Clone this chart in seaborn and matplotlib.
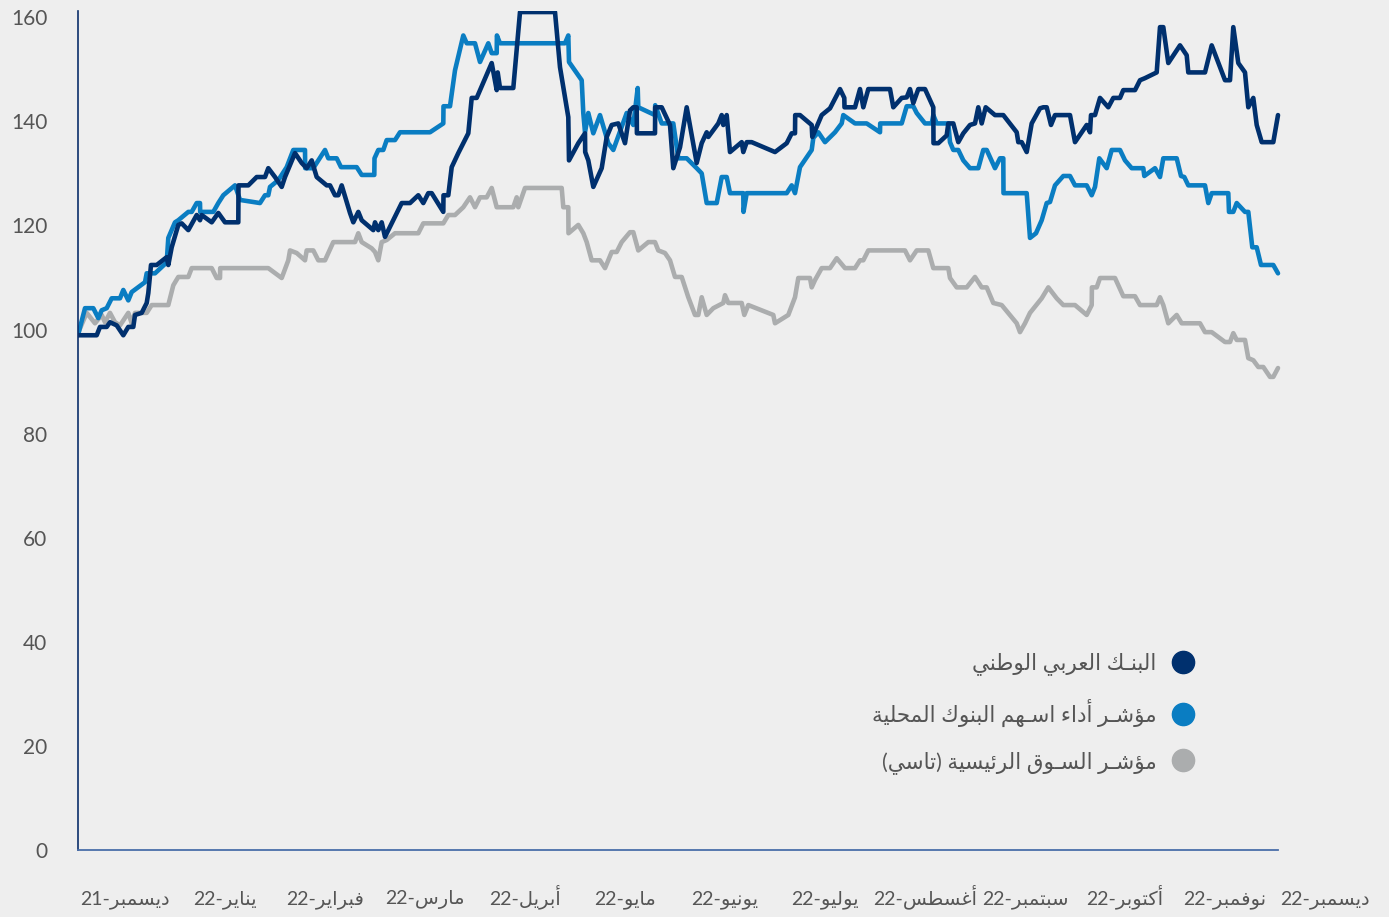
import numpy as np
import pandas as pd
import matplotlib
matplotlib.use('Agg')
import matplotlib.pyplot as plt
import seaborn as sns
from matplotlib.lines import Line2D

# month index (0 = start of Dec-21) and rebased value
anb_x = [0.0, 0.187, 0.22, 0.287, 0.32, 0.387, 0.453, 0.503, 0.553, 0.57,
         0.637, 0.687, 0.703, 0.73, 0.787, 0.887, 0.903, 0.937, 1.003, 1.037,
         1.103, 1.187, 1.22, 1.237, 1.337, 1.403, 1.47, 1.603, 1.605, 1.703,
         1.787, 1.87, 1.903, 1.97, 2.037, 2.07, 2.17, 2.237, 2.287, 2.337,
         2.387, 2.487, 2.52, 2.57, 2.603, 2.637, 2.72, 2.753, 2.803, 2.837,
         2.953, 2.97, 3.003, 3.037, 3.07, 3.237, 3.32, 3.403, 3.453, 3.503,
         3.537, 3.653, 3.655, 3.703, 3.737, 3.803, 3.903, 3.937, 3.987, 4.137,
         4.187, 4.197, 4.22, 4.353, 4.42, 4.77, 4.82, 4.903, 4.91, 5.003,
         5.07, 5.072, 5.103, 5.153, 5.237, 5.287, 5.337, 5.403, 5.47, 5.52,
         5.553, 5.587, 5.589, 5.77, 5.772, 5.837, 5.92, 5.953, 6.02, 6.087,
         6.187, 6.237, 6.287, 6.303, 6.403, 6.437, 6.453, 6.487, 6.52, 6.637,
         6.653, 6.687, 6.737, 6.97, 7.087, 7.137, 7.17, 7.172, 7.22, 7.337,
         7.343, 7.437, 7.52, 7.62, 7.663, 7.665, 7.77, 7.82, 7.853, 7.903,
         8.12, 8.153, 8.237, 8.287, 8.32, 8.353, 8.403, 8.47, 8.553, 8.555,
         8.603, 8.687, 8.703, 8.753, 8.803, 8.853, 8.92, 8.97, 9.003, 9.037,
         9.077, 9.17, 9.253, 9.387, 9.403, 9.437, 9.487, 9.537, 9.62, 9.653,
         9.687, 9.73, 9.77, 9.92, 9.97, 10.087, 10.12, 10.13, 10.17, 10.22,
         10.303, 10.353, 10.42, 10.453, 10.57, 10.62, 10.67, 10.787, 10.82, 10.853,
         10.903, 11.02, 11.087, 11.103, 11.27, 11.337, 11.47, 11.52, 11.553, 11.603,
         11.67, 11.703, 11.753, 11.787, 11.837, 11.953, 12.0]
anb_y = [98.9, 98.9, 100.5, 100.5, 101.4, 100.8, 98.9, 100.5, 100.5, 102.8,
         103.2, 105.1, 107.0, 112.4, 112.4, 113.9, 112.4, 115.8, 120.1, 120.4,
         119.1, 122.0, 121.0, 122.0, 120.6, 122.4, 120.6, 120.6, 127.7, 127.7,
         129.3, 129.3, 131.0, 129.3, 127.4, 129.3, 133.9, 132.0, 131.0, 132.5,
         129.3, 127.7, 127.7, 125.8, 125.8, 127.7, 122.4, 120.6, 122.6, 121.0,
         119.1, 120.6, 119.1, 120.6, 117.8, 124.3, 124.3, 125.8, 124.3, 126.2,
         126.2, 122.6, 125.8, 125.8, 131.2, 133.9, 137.7, 144.5, 144.5, 151.2,
         146.0, 149.4, 146.4, 146.4, 161.0, 161.0, 150.4, 140.8, 132.5, 135.8,
         137.7, 134.1, 132.5, 127.4, 131.0, 137.0, 139.3, 139.6, 135.8, 142.1,
         142.7, 142.7, 137.7, 137.7, 142.7, 142.7, 139.3, 131.0, 135.0, 142.7,
         132.0, 135.8, 137.9, 137.0, 139.6, 141.2, 139.3, 141.2, 134.1, 136.0,
         134.1, 136.0, 136.0, 134.1, 135.8, 137.7, 137.7, 141.2, 141.2, 139.3,
         137.0, 141.2, 142.5, 146.2, 144.5, 142.7, 142.7, 146.2, 142.7, 146.2,
         146.2, 142.7, 144.5, 144.6, 146.2, 143.5, 146.2, 146.2, 142.7, 135.8,
         135.8, 137.3, 139.6, 139.6, 136.0, 137.7, 139.3, 139.6, 142.7, 139.6,
         142.7, 141.2, 141.2, 137.9, 136.0, 136.0, 134.1, 139.6, 142.5, 142.7,
         142.7, 139.3, 141.2, 141.2, 136.0, 139.3, 137.9, 141.2, 141.2, 144.5,
         142.7, 144.5, 144.5, 146.0, 146.0, 147.9, 148.3, 149.4, 158.1, 158.1,
         151.2, 154.6, 152.7, 149.4, 149.4, 154.6, 147.9, 147.9, 158.1, 151.2,
         149.4, 142.7, 144.5, 139.3, 136.0, 136.0, 141.2]

banks_x = [0.0, 0.07, 0.153, 0.203, 0.237, 0.287, 0.337, 0.42, 0.453, 0.503,
           0.537, 0.67, 0.687, 0.77, 0.887, 0.903, 0.97, 1.003, 1.103, 1.137,
           1.187, 1.22, 1.222, 1.353, 1.403, 1.453, 1.57, 1.62, 1.82, 1.87,
           1.903, 1.92, 2.003, 2.087, 2.153, 2.27, 2.272, 2.353, 2.47, 2.503,
           2.587, 2.63, 2.787, 2.837, 2.963, 2.965, 3.003, 3.053, 3.087, 3.17,
           3.22, 3.52, 3.653, 3.655, 3.72, 3.77, 3.853, 3.887, 3.97, 4.02,
           4.103, 4.137, 4.187, 4.189, 4.22, 4.87, 4.903, 4.91, 5.037, 5.053,
           5.07, 5.103, 5.153, 5.22, 5.303, 5.353, 5.487, 5.553, 5.597, 5.603,
           5.77, 5.772, 5.837, 5.953, 6.003, 6.087, 6.187, 6.237, 6.287, 6.387,
           6.437, 6.487, 6.52, 6.653, 6.655, 6.687, 7.087, 7.137, 7.17, 7.22,
           7.337, 7.353, 7.403, 7.47, 7.57, 7.637, 7.653, 7.77, 7.887, 8.02,
           8.022, 8.237, 8.287, 8.353, 8.387, 8.47, 8.537, 8.553, 8.587, 8.703,
           8.72, 8.753, 8.803, 8.853, 8.92, 9.003, 9.053, 9.087, 9.17, 9.22,
           9.253, 9.255, 9.487, 9.52, 9.58, 9.637, 9.687, 9.72, 9.77, 9.853,
           9.92, 9.97, 10.087, 10.137, 10.17, 10.213, 10.287, 10.337, 10.42, 10.47,
           10.537, 10.653, 10.663, 10.77, 10.82, 10.853, 10.987, 11.03, 11.063, 11.103,
           11.27, 11.303, 11.337, 11.503, 11.51, 11.553, 11.587, 11.67, 11.703, 11.743,
           11.787, 11.83, 11.953, 12.0]
banks_y = [98.9, 104.1, 104.1, 102.2, 103.7, 104.1, 106.0, 106.0, 107.6, 105.6,
           107.2, 109.1, 110.8, 110.8, 112.9, 117.6, 120.6, 121.0, 122.6, 122.6,
           124.3, 124.3, 122.6, 122.6, 124.3, 125.8, 127.7, 124.9, 124.3, 125.8,
           125.8, 127.4, 128.7, 131.2, 134.5, 134.5, 131.0, 131.0, 134.5, 132.9,
           132.9, 131.2, 131.2, 129.7, 129.7, 132.9, 134.5, 134.5, 136.4, 136.4,
           137.9, 137.9, 139.6, 142.9, 142.9, 149.8, 156.5, 155.0, 155.0, 151.4,
           155.0, 153.1, 153.1, 156.5, 155.0, 155.0, 156.5, 151.4, 147.9, 141.6,
           137.9, 141.6, 137.7, 141.2, 135.8, 134.5, 141.6, 139.3, 146.4, 142.7,
           141.2, 143.1, 139.6, 139.6, 132.9, 132.9, 131.0, 130.0, 124.3, 124.3,
           129.3, 129.3, 126.2, 126.2, 122.6, 126.2, 126.2, 127.7, 126.2, 131.2,
           134.5, 136.8, 137.9, 136.0, 137.9, 139.6, 141.2, 139.6, 139.6, 137.9,
           139.6, 139.6, 142.9, 142.9, 141.6, 139.6, 139.6, 141.2, 139.6, 139.6,
           136.0, 134.5, 134.5, 132.5, 131.0, 131.0, 134.5, 134.5, 131.0, 132.9,
           132.9, 126.2, 126.2, 117.6, 118.5, 121.0, 124.3, 124.5, 127.7, 129.5,
           129.5, 127.7, 127.7, 125.8, 127.4, 132.9, 131.0, 134.5, 134.5, 132.5,
           131.0, 131.0, 129.5, 131.0, 129.3, 132.9, 132.9, 129.5, 129.3, 127.7,
           127.7, 124.3, 126.2, 126.2, 122.6, 122.6, 124.3, 122.6, 122.6, 115.8,
           115.8, 112.4, 112.4, 110.8]

tasi_x = [0.0, 0.087, 0.17, 0.237, 0.27, 0.32, 0.37, 0.42, 0.503, 0.537,
          0.57, 0.687, 0.737, 0.903, 0.953, 1.003, 1.103, 1.137, 1.337, 1.387,
          1.42, 1.422, 1.903, 2.037, 2.103, 2.12, 2.187, 2.27, 2.287, 2.353,
          2.403, 2.47, 2.553, 2.77, 2.803, 2.837, 2.937, 2.97, 3.003, 3.037,
          3.087, 3.17, 3.403, 3.453, 3.653, 3.703, 3.77, 3.853, 3.92, 3.97,
          4.02, 4.087, 4.137, 4.187, 4.353, 4.387, 4.403, 4.47, 4.837, 4.853,
          4.903, 4.905, 5.003, 5.053, 5.087, 5.137, 5.22, 5.27, 5.337, 5.387,
          5.437, 5.52, 5.553, 5.603, 5.703, 5.77, 5.803, 5.87, 5.92, 5.97,
          6.037, 6.103, 6.17, 6.203, 6.237, 6.287, 6.353, 6.453, 6.47, 6.503,
          6.637, 6.663, 6.703, 6.953, 6.97, 7.103, 7.17, 7.203, 7.32, 7.337,
          7.37, 7.437, 7.52, 7.587, 7.67, 7.77, 7.82, 7.853, 7.903, 8.27,
          8.32, 8.387, 8.503, 8.553, 8.703, 8.72, 8.787, 8.887, 8.97, 9.037,
          9.087, 9.153, 9.237, 9.387, 9.42, 9.47, 9.52, 9.637, 9.703, 9.787,
          9.853, 9.97, 10.087, 10.137, 10.139, 10.187, 10.22, 10.37, 10.453, 10.57,
          10.62, 10.787, 10.82, 10.853, 10.903, 10.987, 11.037, 11.22, 11.27, 11.337,
          11.47, 11.52, 11.553, 11.587, 11.67, 11.703, 11.753, 11.803, 11.853, 11.92,
          11.953, 12.0]
tasi_y = [99.3, 103.2, 101.2, 102.8, 101.4, 103.2, 101.4, 100.8, 103.2, 101.2,
          103.2, 103.2, 104.7, 104.7, 108.5, 110.1, 110.1, 111.8, 111.8, 109.9,
          109.9, 111.8, 111.8, 109.9, 113.3, 115.2, 114.7, 113.3, 115.2, 115.2,
          113.3, 113.3, 116.8, 116.8, 118.5, 116.8, 115.6, 114.9, 113.3, 116.8,
          117.2, 118.5, 118.5, 120.4, 120.4, 122.0, 122.0, 123.5, 125.4, 123.5,
          125.4, 125.4, 127.2, 123.5, 123.5, 125.4, 123.5, 127.2, 127.2, 123.5,
          123.5, 118.5, 120.1, 118.5, 116.8, 113.3, 113.3, 111.8, 114.9, 114.9,
          116.8, 118.7, 118.7, 115.2, 116.8, 116.8, 115.2, 114.7, 113.3, 110.1,
          110.1, 106.2, 102.8, 102.8, 106.2, 102.8, 104.1, 105.1, 106.6, 105.1,
          105.1, 102.8, 104.7, 102.8, 101.2, 102.8, 106.2, 109.9, 109.9, 108.1,
          109.5, 111.8, 111.8, 113.7, 111.8, 111.8, 113.3, 113.3, 115.2, 115.2,
          113.3, 115.2, 115.2, 111.8, 111.8, 109.9, 108.1, 108.1, 110.1, 108.1,
          108.1, 105.1, 104.7, 101.2, 99.5, 101.2, 103.2, 106.0, 108.1, 106.0,
          104.7, 104.7, 102.8, 104.7, 108.1, 108.1, 109.9, 109.9, 106.4, 106.4,
          104.7, 104.7, 106.2, 104.7, 101.2, 102.8, 101.2, 101.2, 99.5, 99.5,
          97.6, 97.6, 99.3, 98.0, 98.0, 94.5, 94.1, 92.8, 92.8, 90.9,
          90.9, 92.6]

months = ['ديسمبر', 'يناير', 'فبراير', 'مارس', 'أبريل', 'مايو', 'يونيو',
          'يوليو', 'أغسطس', 'سبتمبر', 'أكتوبر', 'نوفمبر', 'ديسمبر']
years = ['21'] + ['22'] * 12
series_names = ['البنـك العربي الوطني',
                'مؤشـر أداء اسـهم البنوك المحلية',
                'مؤشـر السـوق الرئيسية (تاسي)']

NAVY = '#00306e'
BLUE = '#0a7dc2'
GREY = '#abadae'
BG = '#eeeeee'
TXT = '#555555'

# matplotlib has no arabic shaping, so pick the contextual forms by hand
FORMS = {
    '\u0621': ('\ufe80',),
    '\u0623': ('\ufe83', '\ufe84'),
    '\u0624': ('\ufe85', '\ufe86'),
    '\u0626': ('\ufe89', '\ufe8a', '\ufe8b', '\ufe8c'),
    '\u0627': ('\ufe8d', '\ufe8e'),
    '\u0628': ('\ufe8f', '\ufe90', '\ufe91', '\ufe92'),
    '\u0629': ('\ufe93', '\ufe94'),
    '\u062a': ('\ufe95', '\ufe96', '\ufe97', '\ufe98'),
    '\u062d': ('\ufea1', '\ufea2', '\ufea3', '\ufea4'),
    '\u062f': ('\ufea9', '\ufeaa'),
    '\u0631': ('\ufead', '\ufeae'),
    '\u0633': ('\ufeb1', '\ufeb2', '\ufeb3', '\ufeb4'),
    '\u0634': ('\ufeb5', '\ufeb6', '\ufeb7', '\ufeb8'),
    '\u0637': ('\ufec1', '\ufec2', '\ufec3', '\ufec4'),
    '\u0639': ('\ufec9', '\ufeca', '\ufecb', '\ufecc'),
    '\u063a': ('\ufecd', '\ufece', '\ufecf', '\ufed0'),
    '\u0641': ('\ufed1', '\ufed2', '\ufed3', '\ufed4'),
    '\u0642': ('\ufed5', '\ufed6', '\ufed7', '\ufed8'),
    '\u0643': ('\ufed9', '\ufeda', '\ufedb', '\ufedc'),
    '\u0644': ('\ufedd', '\ufede', '\ufedf', '\ufee0'),
    '\u0645': ('\ufee1', '\ufee2', '\ufee3', '\ufee4'),
    '\u0646': ('\ufee5', '\ufee6', '\ufee7', '\ufee8'),
    '\u0647': ('\ufee9', '\ufeea', '\ufeeb', '\ufeec'),
    '\u0648': ('\ufeed', '\ufeee'),
    '\u064a': ('\ufef1', '\ufef2', '\ufef3', '\ufef4'),
    '\u0640': ('\u0640', '\u0640', '\u0640', '\u0640'),
}


def rtl(text):
    out = []
    for i, c in enumerate(text):
        f = FORMS.get(c)
        if f is None:
            out.append(c)
            continue
        prev = text[i - 1] if i > 0 else ''
        nxt = text[i + 1] if i + 1 < len(text) else ''
        join_prev = len(f) > 1 and len(FORMS.get(prev, ())) == 4
        join_next = len(f) == 4 and len(FORMS.get(nxt, ())) > 1
        if join_prev and join_next:
            out.append(f[3])
        elif join_prev:
            out.append(f[1])
        elif join_next:
            out.append(f[2])
        else:
            out.append(f[0])
    vis = ''.join(out)[::-1]
    return vis.translate(str.maketrans('()', ')('))


sns.set_theme(style='white')
plt.rcParams['font.family'] = ['Lato', 'DejaVu Sans']

fig = plt.figure(figsize=(13.89, 9.17), dpi=100, facecolor=BG)
ax = fig.add_axes([78 / 1389, 67 / 917, 1311 / 1389, 839 / 917], facecolor=BG)

for xs, ys, col in [(tasi_x, tasi_y, GREY), (banks_x, banks_y, BLUE), (anb_x, anb_y, NAVY)]:
    sns.lineplot(x=xs, y=ys, ax=ax, color=col, lw=3.3, estimator=None,
                 sort=False, solid_joinstyle='round', solid_capstyle='round')

ax.set_xlim(0, 13.11)
ax.set_ylim(0, 161.2)
ax.set_yticks(np.arange(0, 161, 20))
ax.set_xticks(np.arange(13) + 0.47)
ax.set_xticklabels([y + '-' + rtl(m) for m, y in zip(months, years)])
ax.tick_params(axis='y', length=0, pad=22, labelsize=15, labelcolor=TXT)
ax.tick_params(axis='x', length=0, pad=39, labelsize=14, labelcolor=TXT)
for lab in ax.get_xticklabels():
    lab.set_verticalalignment('baseline')

sns.despine(ax=ax)
ax.spines['left'].set_color('#0b2f6b')
ax.spines['left'].set_linewidth(1.2)
ax.spines['bottom'].set_color('#4a6ea9')
ax.spines['bottom'].set_linewidth(1.3)
ax.spines['bottom'].set_bounds(0, 12)

handles = [Line2D([], [], marker='o', ls='', color=c, markersize=16)
           for c in (NAVY, BLUE, GREY)]
ax.legend(handles, [rtl(s) for s in series_names], markerfirst=False,
          frameon=False, loc='center right',
          bbox_to_anchor=(1205 / 1389, 1 - 713 / 917), bbox_transform=fig.transFigure,
          fontsize=15.5, labelspacing=1.1, handlelength=1.0, handletextpad=0.75,
          borderpad=0, labelcolor=TXT)

fig.savefig('out.png', dpi=100, facecolor=BG)
